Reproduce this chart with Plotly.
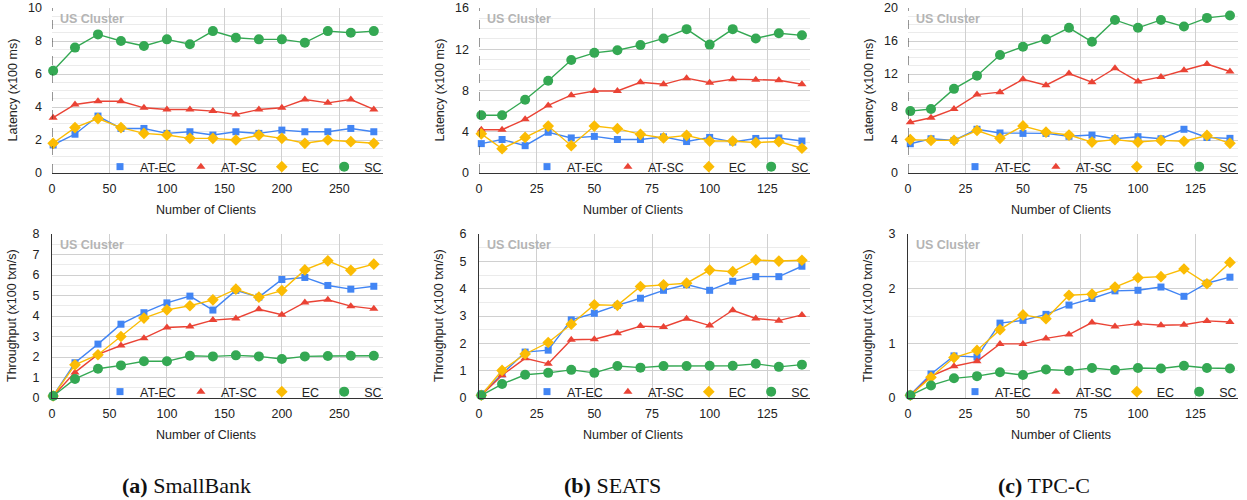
import plotly.graph_objects as go

# ---------------- data ----------------
clients_smallbank = [1, 20, 40, 60, 80, 100, 120, 140, 160, 180, 200, 220, 240, 260, 280]
clients_seats = [1, 10, 20, 30, 40, 50, 60, 70, 80, 90, 100, 110, 120, 130, 140]
clients_tpcc = [1, 10, 20, 30, 40, 50, 60, 70, 80, 90, 100, 110, 120, 130, 140]

series_names = ["AT-EC", "AT-SC", "EC", "SC"]

# Latency (x100 ms)
lat_sb_at_ec = [1.7, 2.35, 3.45, 2.7, 2.7, 2.4, 2.5, 2.3, 2.5, 2.4, 2.6, 2.5, 2.5, 2.7, 2.5]
lat_sb_at_sc = [3.35, 4.15, 4.35, 4.35, 3.95, 3.85, 3.85, 3.75, 3.55, 3.85, 3.95, 4.45, 4.25, 4.45, 3.85]
lat_sb_ec = [1.8, 2.75, 3.3, 2.75, 2.4, 2.3, 2.1, 2.1, 2.0, 2.3, 2.1, 1.8, 2.0, 1.9, 1.8]
lat_sb_sc = [6.2, 7.6, 8.4, 8.0, 7.7, 8.1, 7.8, 8.6, 8.2, 8.1, 8.1, 7.9, 8.6, 8.5, 8.6]

lat_seats_at_ec = [2.85, 3.25, 2.65, 3.95, 3.4, 3.55, 3.25, 3.25, 3.5, 3.05, 3.45, 3.0, 3.35, 3.4, 3.1]
lat_seats_at_sc = [4.2, 4.2, 5.2, 6.55, 7.55, 7.95, 7.95, 8.8, 8.6, 9.2, 8.75, 9.1, 9.05, 9.0, 8.6]
lat_seats_ec = [3.8, 2.35, 3.45, 4.55, 2.65, 4.55, 4.3, 3.75, 3.4, 3.65, 3.1, 3.1, 2.95, 3.05, 2.4]
lat_seats_sc = [5.6, 5.6, 7.1, 8.95, 10.95, 11.65, 11.9, 12.4, 13.05, 13.95, 12.45, 13.95, 13.05, 13.55, 13.35]

lat_tpcc_at_ec = [3.55, 4.15, 3.95, 5.3, 4.85, 4.8, 4.8, 4.45, 4.6, 4.15, 4.4, 4.15, 5.3, 4.3, 4.2]
lat_tpcc_at_sc = [6.15, 6.7, 7.75, 9.5, 9.8, 11.35, 10.65, 12.05, 11.0, 12.7, 11.1, 11.65, 12.45, 13.2, 12.3]
lat_tpcc_ec = [4.05, 3.95, 3.95, 5.15, 4.2, 5.7, 4.95, 4.6, 3.75, 4.05, 3.75, 3.95, 3.85, 4.55, 3.6]
lat_tpcc_sc = [7.5, 7.75, 10.2, 11.8, 14.3, 15.3, 16.2, 17.6, 15.9, 18.55, 17.6, 18.55, 17.75, 18.8, 19.1]

# Throughput (x100 txn/s)
tput_sb_at_ec = [0.1, 1.72, 2.63, 3.6, 4.16, 4.64, 4.97, 4.29, 5.25, 4.92, 5.78, 5.88, 5.49, 5.31, 5.45]
tput_sb_at_sc = [0.1, 1.25, 2.13, 2.56, 2.92, 3.44, 3.49, 3.8, 3.88, 4.33, 4.06, 4.66, 4.79, 4.48, 4.35]
tput_sb_ec = [0.1, 1.62, 2.11, 3.0, 3.9, 4.3, 4.5, 4.79, 5.31, 4.92, 5.24, 6.25, 6.69, 6.23, 6.53]
tput_sb_sc = [0.1, 0.93, 1.43, 1.59, 1.79, 1.79, 2.06, 2.03, 2.08, 2.03, 1.9, 2.03, 2.05, 2.06, 2.06]

tput_seats_at_ec = [0.15, 0.88, 1.68, 1.75, 2.86, 3.1, 3.39, 3.65, 3.94, 4.15, 3.94, 4.27, 4.44, 4.44, 4.82]
tput_seats_at_sc = [0.1, 0.83, 1.45, 1.25, 2.13, 2.15, 2.37, 2.63, 2.6, 2.9, 2.65, 3.21, 2.91, 2.83, 3.04]
tput_seats_ec = [0.1, 1.01, 1.61, 2.03, 2.7, 3.41, 3.39, 4.08, 4.14, 4.2, 4.68, 4.62, 5.05, 5.01, 5.04]
tput_seats_sc = [0.1, 0.51, 0.85, 0.92, 1.03, 0.92, 1.17, 1.11, 1.17, 1.17, 1.18, 1.18, 1.25, 1.14, 1.22]

tput_tpcc_at_ec = [0.06, 0.44, 0.77, 0.75, 1.37, 1.42, 1.53, 1.7, 1.82, 1.96, 1.97, 2.03, 1.86, 2.1, 2.21]
tput_tpcc_at_sc = [0.05, 0.4, 0.58, 0.67, 0.99, 0.99, 1.09, 1.16, 1.38, 1.31, 1.36, 1.33, 1.34, 1.41, 1.39]
tput_tpcc_ec = [0.05, 0.38, 0.74, 0.87, 1.25, 1.52, 1.45, 1.88, 1.9, 2.03, 2.2, 2.22, 2.36, 2.09, 2.48]
tput_tpcc_sc = [0.05, 0.23, 0.36, 0.4, 0.47, 0.42, 0.52, 0.5, 0.55, 0.51, 0.55, 0.54, 0.59, 0.55, 0.54]

captions = ["<b>(a)</b> SmallBank", "<b>(b)</b> SEATS", "<b>(c)</b> TPC-C"]

# ---------------- style ----------------
W, H = 1247, 500
COLORS = {"AT-EC": "#4285F4", "AT-SC": "#EA4335", "EC": "#FBBC04", "SC": "#34A853"}
SYMBOLS = {"AT-EC": "square", "AT-SC": "triangle-up", "EC": "diamond", "SC": "circle"}
SIZES = {"AT-EC": 7, "AT-SC": 8, "EC": 9, "SC": 10}
FONT = "Liberation Sans, Arial, sans-serif"

col_px = [(52, 383), (479, 810), (908, 1238)]
row_px = [(8, 173), (234, 398)]

panels = [
    # row, col, x, series list, ymax, ydtick, yminor, xmax, xdtick, ytitle
    (0, 0, clients_smallbank, [lat_sb_at_ec, lat_sb_at_sc, lat_sb_ec, lat_sb_sc], 10, 2, 0.5, 288, 50, "Latency (x100 ms)"),
    (0, 1, clients_seats, [lat_seats_at_ec, lat_seats_at_sc, lat_seats_ec, lat_seats_sc], 16, 4, 1, 143.5, 25, "Latency (x100 ms)"),
    (0, 2, clients_tpcc, [lat_tpcc_at_ec, lat_tpcc_at_sc, lat_tpcc_ec, lat_tpcc_sc], 20, 4, 1, 143.5, 25, "Latency (x100 ms)"),
    (1, 0, clients_smallbank, [tput_sb_at_ec, tput_sb_at_sc, tput_sb_ec, tput_sb_sc], 8, 1, 0.5, 288, 50, "Throughput (x100 txn/s)"),
    (1, 1, clients_seats, [tput_seats_at_ec, tput_seats_at_sc, tput_seats_ec, tput_seats_sc], 6, 1, 0.5, 143.5, 25, "Throughput (x100 txn/s)"),
    (1, 2, clients_tpcc, [tput_tpcc_at_ec, tput_tpcc_at_sc, tput_tpcc_ec, tput_tpcc_sc], 3, 1, 0.5, 143.5, 25, "Throughput (x100 txn/s)"),
]

fig = go.Figure()
layout = dict(
    width=W, height=H,
    margin=dict(l=0, r=0, t=0, b=0, autoexpand=False),
    paper_bgcolor="white", plot_bgcolor="white",
    font=dict(family=FONT, size=12.5, color="#222222"),
    showlegend=True,
)
annotations = []
shapes = []

def px2x(p):
    return p / W

def px2y(p):
    return 1 - p / H

for i, (r, c, xs, ys_list, ymax, ydt, ymin_dt, xmax, xdt, ytitle) in enumerate(panels, start=1):
    sfx = "" if i == 1 else str(i)
    leg = "legend" if i == 1 else f"legend{i}"
    x0p, x1p = col_px[c]
    y0p, y1p = row_px[r]
    for name, ys in zip(series_names, ys_list):
        fig.add_trace(go.Scatter(
            x=xs, y=ys, mode="lines+markers", name=name,
            xaxis="x" + sfx, yaxis="y" + sfx,
            line=dict(color=COLORS[name], width=1.4),
            marker=dict(symbol=SYMBOLS[name], size=SIZES[name], color=COLORS[name]),
            cliponaxis=False, showlegend=False, legend=leg,
        ))
    for name in series_names:
        fig.add_trace(go.Scatter(
            x=[None], y=[None], mode="markers", name=name,
            xaxis="x" + sfx, yaxis="y" + sfx,
            marker=dict(symbol=SYMBOLS[name], size=SIZES[name], color=COLORS[name]),
            showlegend=True, legend=leg,
        ))
    layout["xaxis" + sfx] = dict(
        domain=[px2x(x0p), px2x(x1p)], range=[0, xmax], anchor="y" + sfx,
        automargin=False,
        tick0=0, dtick=xdt, showgrid=True, gridcolor="#d0d0d0", gridwidth=1,
        showline=True, linecolor="#333333", linewidth=1, zeroline=False,
        ticks="", ticklabelstandoff=4, tickfont=dict(size=12.5, color="#222222"),
    )
    layout["yaxis" + sfx] = dict(
        domain=[px2y(y1p), px2y(y0p)], range=[0, ymax], anchor="x" + sfx,
        automargin=False,
        tick0=0, dtick=ydt, showgrid=True, gridcolor="#d0d0d0", gridwidth=1,
        minor=dict(dtick=ymin_dt, tick0=0, showgrid=True, gridcolor="#ebebeb", gridwidth=1),
        showline=(r == 1), linecolor="#333333", linewidth=1, zeroline=False,
        ticks="", ticklabelstandoff=9, tickfont=dict(size=12.5, color="#222222"),
    )
    layout[leg] = dict(
        orientation="h", x=px2x(x1p + 4), xanchor="right",
        y=px2y(y1p + 9), yanchor="bottom",
        bgcolor="rgba(0,0,0,0)", font=dict(size=12.5, color="#222222"),
        itemwidth=30, tracegroupgap=0,
    )
    if r == 0:
        shapes.append(dict(
            type="line", xref="x" + sfx, yref="y" + sfx + " domain",
            x0=0, x1=0, y0=0, y1=1,
            line=dict(color="#333333", width=1, dash="dash"), layer="above",
        ))
    # US Cluster label
    annotations.append(dict(
        text="<b>US Cluster</b>", xref="paper", yref="paper",
        x=px2x(x0p + 6), y=px2y(y0p + 11), xanchor="left", yanchor="middle",
        showarrow=False, font=dict(size=12.5, color="#b4b4b4", family=FONT),
    ))
    # x title
    annotations.append(dict(
        text="Number of Clients", xref="paper", yref="paper",
        x=px2x((x0p + x1p) / 2 - 12), y=px2y(y1p + 37), xanchor="center", yanchor="middle",
        showarrow=False, font=dict(size=12.5, color="#222222", family=FONT),
    ))
    # y title
    annotations.append(dict(
        text=ytitle, xref="paper", yref="paper", textangle=-90,
        x=px2x(x0p - 40), y=px2y((y0p + y1p) / 2), xanchor="center", yanchor="middle",
        showarrow=False, font=dict(size=12.5, color="#222222", family=FONT),
    ))

cap_x = [186, 612, 1044]
for cx, cap in zip(cap_x, captions):
    annotations.append(dict(
        text=cap, xref="paper", yref="paper", x=px2x(cx), y=px2y(485),
        xanchor="center", yanchor="middle", showarrow=False,
        font=dict(size=22, color="#111111", family="Liberation Serif, DejaVu Serif, serif"),
    ))

layout["annotations"] = annotations
layout["shapes"] = shapes
fig.update_layout(**layout)
fig.write_html(
    "out.html",
    config={"displayModeBar": False},
    post_script="document.body.style.margin='0px';document.body.style.overflow='hidden';",
)
